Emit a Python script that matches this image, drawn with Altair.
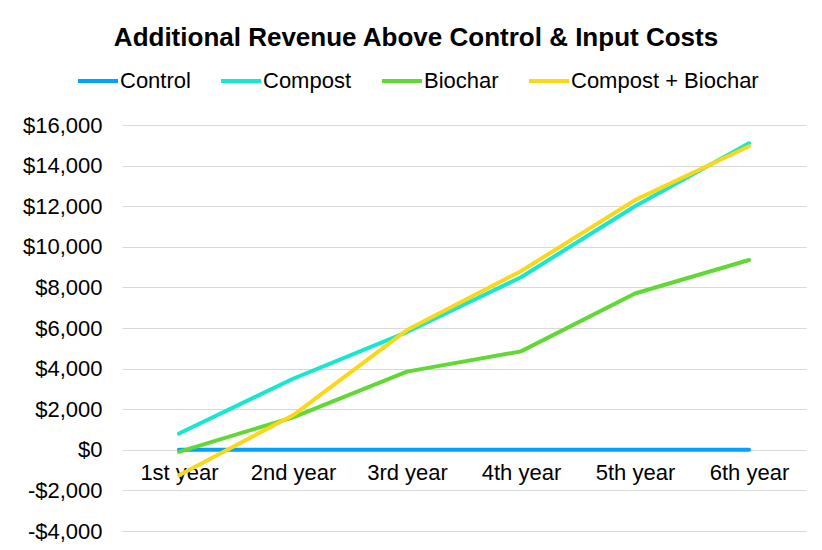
import altair as alt
import pandas as pd

years = ["1st year", "2nd year", "3rd year", "4th year", "5th year", "6th year"]
series_names = ["Control", "Compost", "Biochar", "Compost + Biochar"]
control = [0, 0, 0, 0, 0, 0]
compost = [800, 3500, 5800, 8500, 12000, 15100]
biochar = [-100, 1600, 3850, 4850, 7700, 9350]
compost_biochar = [-1250, 1700, 5900, 8800, 12300, 14950]
colors = ["#00A2FF", "#16E7CF", "#61D836", "#FAD717"]
y_ticks = [-4000, -2000, 0, 2000, 4000, 6000, 8000, 10000, 12000, 14000, 16000]

rows = []
for name, vals in zip(series_names, [control, compost, biochar, compost_biochar]):
    for i, (yr, v) in enumerate(zip(years, vals)):
        rows.append({"year": yr, "series": name, "value": v, "order": series_names.index(name)})
df = pd.DataFrame(rows)

FONT = "Liberation Sans"

chart = alt.Chart(df).mark_line(strokeWidth=4, strokeCap="round", strokeJoin="round").encode(
    x=alt.X("year:N", sort=years,
            scale=alt.Scale(type="point", padding=0.5),
            axis=alt.Axis(title=None, domain=False, ticks=False, grid=False,
                          labelAngle=0, labelFontSize=22, labelColor="#000000",
                          labelFont=FONT, labelBaseline="top", labelPadding=12,
                          offset=-81)),
    y=alt.Y("value:Q",
            scale=alt.Scale(domain=[-4000, 16000], nice=False, zero=False),
            axis=alt.Axis(title=None, domain=False, ticks=False, values=y_ticks,
                          grid=True, gridColor="#D9D9D9", gridWidth=1.2,
                          labelFontSize=22, labelColor="#000000", labelFont=FONT,
                          labelPadding=20,
                          labelExpr="datum.value < 0 ? '-$' + format(-datum.value, ',') : '$' + format(datum.value, ',')")),
    color=alt.Color("series:N", sort=series_names,
                    scale=alt.Scale(domain=series_names, range=colors),
                    legend=alt.Legend(title=None, orient="none", direction="horizontal",
                                      legendX=-46, legendY=-66,
                                      symbolType="stroke", symbolSize=1600,
                                      symbolStrokeWidth=4, labelFontSize=22,
                                      labelFont=FONT, labelColor="#000000",
                                      labelLimit=400,
                                      labelOffset=0, columnPadding=22, padding=0)),
    order=alt.Order("order:Q"),
    detail="series:N",
).properties(
    width=684,
    height=406,
    title=alt.TitleParams("Additional Revenue Above Control & Input Costs",
                          fontSize=26, font=FONT, fontWeight="bold", color="#000000",
                          anchor="middle", dx=-48, offset=8),
    autosize=alt.AutoSizeParams(type="none"),
    padding={"left": 114, "top": 117, "right": 8, "bottom": 11},
    background="white",
).configure_view(stroke=None)

chart.save("out.html", embed_options={"renderer": "svg", "actions": False})
